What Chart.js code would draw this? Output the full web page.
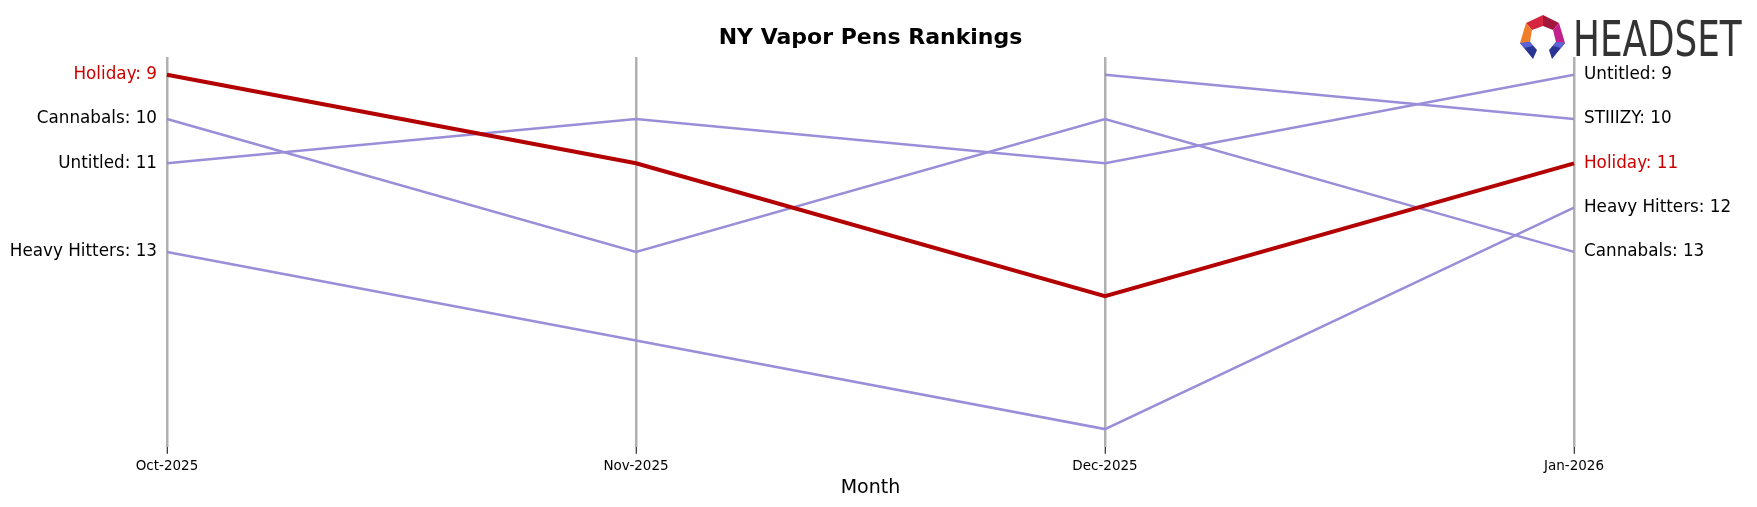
<!DOCTYPE html>
<html>
<head>
<meta charset="utf-8">
<script src="https://cdn.jsdelivr.net/npm/chart.js@4.4.1/dist/chart.umd.min.js"></script>
<style>
  html, body { margin: 0; padding: 0; background: #fff; }
  #wrap { width: 1757px; height: 507px; }
</style>
</head>
<body>
<div id="wrap"><canvas id="rankChart" width="1757" height="507"></canvas></div>
<script>
// Data
const months = ['Oct-2025', 'Nov-2025', 'Dec-2025', 'Jan-2026'];
const holiday = [9, 11, 14, 11];
const cannabals = [10, 13, 10, 13];
const untitled = [11, 10, 11, 9];
const heavyHitters = [13, 15, 17, 12];
const stiiizy = [null, null, 9, 10];

const brands = ['Holiday', 'Cannabals', 'Untitled', 'Heavy Hitters', 'STIIIZY'];
const ranks = [holiday, cannabals, untitled, heavyHitters, stiiizy];
const focusBrand = 'Holiday';

const RED = '#b30000';
const RED_TEXT = '#cc0000';
const PURPLE = '#9b8ed9';
const FONT = "'DejaVu Sans', sans-serif";

// Side labels, title and logo
const decorPlugin = {
    id: 'decor',
    afterDraw(chart) {
        const ctx = chart.ctx;
        const x = chart.scales.x;
        const y = chart.scales.y;
        const last = months.length - 1;

        ctx.save();
        ctx.font = '16.8px ' + FONT;
        ctx.textBaseline = 'middle';
        brands.forEach((name, i) => {
            const vals = ranks[i];
            ctx.fillStyle = name === focusBrand ? RED_TEXT : '#000';
            if (vals[0] != null) {
                ctx.textAlign = 'right';
                ctx.fillText(name + ': ' + vals[0], x.getPixelForValue(0) - 10, y.getPixelForValue(vals[0]));
            }
            if (vals[last] != null) {
                ctx.textAlign = 'left';
                ctx.fillText(name + ': ' + vals[last], x.getPixelForValue(last) + 10, y.getPixelForValue(vals[last]));
            }
        });

        // title, centred on the axes box (with matplotlib-like margins)
        const step = x.getPixelForValue(1) - x.getPixelForValue(0);
        const mid = (x.getPixelForValue(0) - 0.15 * step + x.getPixelForValue(last) + 0.15 * step) / 2;
        ctx.fillStyle = '#000';
        ctx.textAlign = 'center';
        ctx.font = 'bold 22px ' + FONT;
        ctx.fillText('NY Vapor Pens Rankings', mid, 38);

        ctx.font = '19px ' + FONT;
        ctx.fillText('Month', mid, 488);

        drawLogo(ctx);
        ctx.restore();
    }
};

function poly(ctx, pts, color) {
    ctx.beginPath();
    ctx.moveTo(pts[0][0], pts[0][1]);
    for (let i = 1; i < pts.length; i++) ctx.lineTo(pts[i][0], pts[i][1]);
    ctx.closePath();
    ctx.fillStyle = color;
    ctx.fill();
}

function drawLogo(ctx) {
    // icon
    poly(ctx, [[1526, 23], [1543, 15], [1543, 26], [1532, 30]], '#d6263f');
    poly(ctx, [[1543, 15], [1559, 23], [1553, 30], [1543, 26]], '#a3173d');
    poly(ctx, [[1526, 23], [1532, 30], [1530, 42], [1520, 43]], '#f07d2a');
    poly(ctx, [[1559, 23], [1565, 43], [1556, 42], [1553, 30]], '#c2218c');
    poly(ctx, [[1520, 43], [1530, 42], [1537, 50], [1533, 59]], '#283593');
    poly(ctx, [[1520, 43], [1530, 42], [1533, 46], [1524, 48]], '#5c63d6');
    poly(ctx, [[1565, 43], [1556, 42], [1549, 50], [1552, 59]], '#283593');
    poly(ctx, [[1565, 43], [1556, 42], [1553, 46], [1561, 48]], '#5c63d6');

    // wordmark
    ctx.save();
    ctx.fillStyle = '#333333';
    ctx.textAlign = 'left';
    ctx.textBaseline = 'alphabetic';
    ctx.font = '49px ' + FONT;
    ctx.translate(1573, 56);
    ctx.scale(0.73, 1);
    ctx.fillText('HEADSET', 0, 0);
    ctx.restore();
}

function buildDatasets() {
    // focus brand first so it is drawn on top
    return brands.map((name, i) => ({
        label: name,
        data: ranks[i],
        borderColor: name === focusBrand ? RED : PURPLE,
        borderWidth: name === focusBrand ? 4 : 2.5,
        pointRadius: 0,
        tension: 0,
        fill: false
    }));
}

document.addEventListener('DOMContentLoaded', () => {
    const canvas = document.getElementById('rankChart');
    new Chart(canvas, {
        type: 'line',
        data: {
            labels: months,
            datasets: buildDatasets()
        },
        options: {
            responsive: false,
            animation: false,
            devicePixelRatio: 1,
            layout: {
                padding: { left: 167, right: 183, top: 57, bottom: 27 }
            },
            plugins: {
                legend: { display: false },
                tooltip: { enabled: false },
                title: { display: false }
            },
            scales: {
                x: {
                    type: 'category',
                    offset: false,
                    border: { display: false },
                    grid: {
                        color: '#b0b0b0',
                        lineWidth: 2.5,
                        drawTicks: true,
                        tickColor: '#000',
                        tickWidth: 1,
                        tickLength: 7
                    },
                    ticks: {
                        color: '#000',
                        padding: 5,
                        maxRotation: 0,
                        font: { family: FONT, size: 13.5 }
                    }
                },
                y: {
                    display: false,
                    reverse: true,
                    min: 8.6,
                    max: 17.4
                }
            }
        },
        plugins: [decorPlugin]
    });
});
</script>
</body>
</html>
